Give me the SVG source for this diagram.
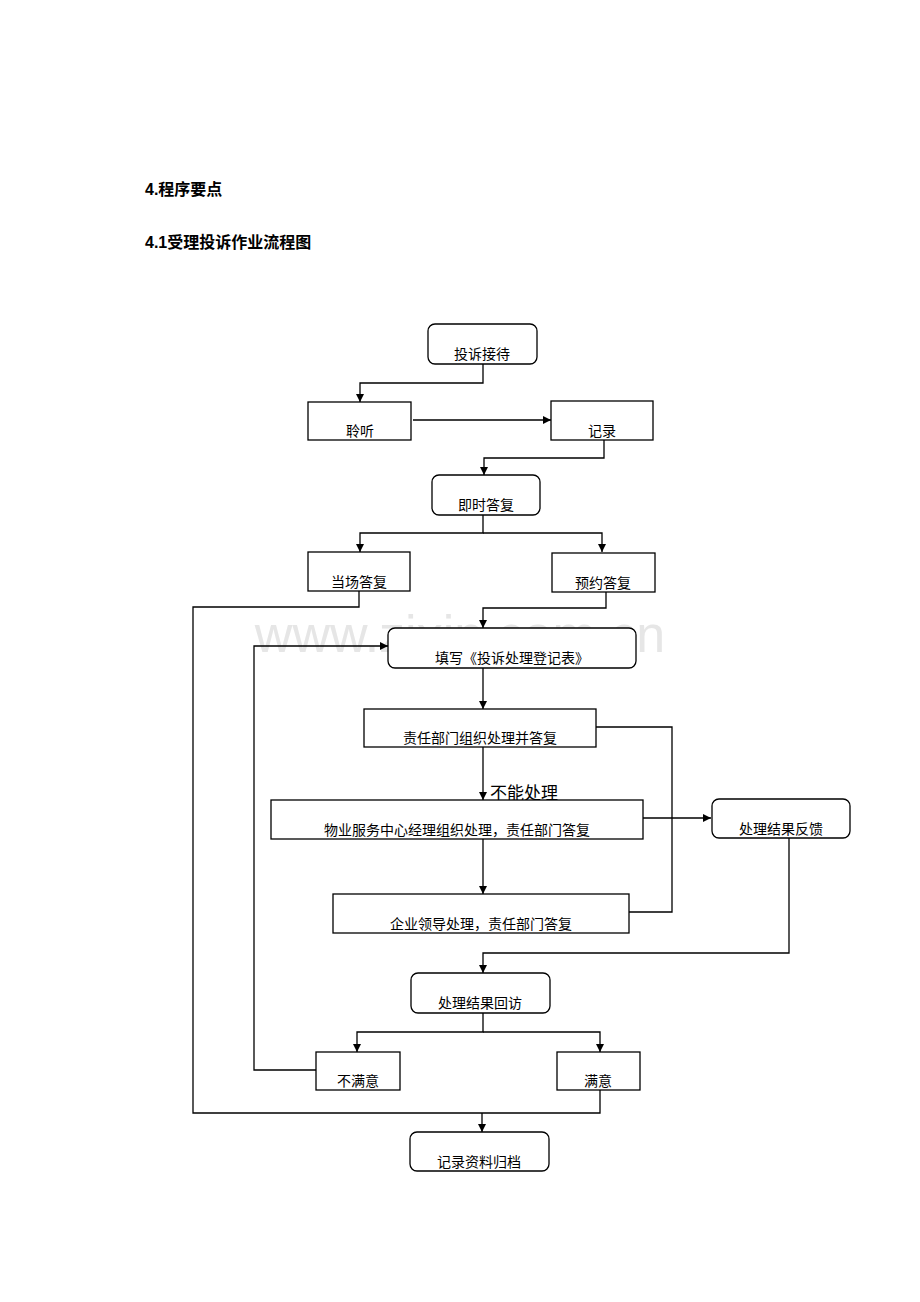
<svg xmlns="http://www.w3.org/2000/svg" width="920" height="1302" viewBox="0 0 920 1302">
<style>
.b{fill:#fff;stroke:#000;stroke-width:1.3}
.t{font-family:"Liberation Serif","Noto Sans CJK SC",serif;font-size:14px;text-anchor:middle}
.h{font-family:"Liberation Sans","Noto Sans CJK SC",sans-serif;font-size:16px;font-weight:bold}
.c{fill:none;stroke:#000;stroke-width:1.3}
</style>
<defs><marker id="a" viewBox="0 0 10 10" refX="10" refY="5" markerWidth="8" markerHeight="8" markerUnits="userSpaceOnUse" orient="auto"><path d="M0,0L10,5L0,10z"/></marker></defs>
<rect width="920" height="1302" fill="#fff"/>
<text class="h" x="145" y="195">4.程序要点</text>
<text class="h" x="145" y="248">4.1受理投诉作业流程图</text>
<text x="460" y="652" font-family="Liberation Sans,sans-serif" font-size="52" fill="#e6e6e6" text-anchor="middle">www.zixin.com.cn</text>
<g id="connectors" class="c">
<path d="M483,364V383H360V402" marker-end="url(#a)"/>
<path d="M413,420H551" marker-end="url(#a)"/>
<path d="M604,440V458H484V475" marker-end="url(#a)"/>
<path d="M483,515V533H360V552" marker-end="url(#a)"/>
<path d="M483,533H602V552" marker-end="url(#a)"/>
<path d="M359,591V607H193V1113H600V1090"/>
<path d="M482,1113V1132" marker-end="url(#a)"/>
<path d="M606,592V608H483V628" marker-end="url(#a)"/>
<path d="M316,1070H254V646H388" marker-end="url(#a)"/>
<path d="M483,668V709" marker-end="url(#a)"/>
<path d="M596,727H672V912H629"/>
<path d="M483,747V800" marker-end="url(#a)"/>
<path d="M643,818H711" marker-end="url(#a)"/>
<path d="M789,838V953H483V973" marker-end="url(#a)"/>
<path d="M483,839V894" marker-end="url(#a)"/>
<path d="M483,1013V1032H357V1052" marker-end="url(#a)"/>
<path d="M483,1032H600V1052" marker-end="url(#a)"/>
</g>
<text x="490" y="799" font-family="Liberation Serif,Noto Sans CJK SC,serif" font-size="17">不能处理</text>
<g id="n1"><rect class="b" x="428" y="324" width="109" height="40" rx="7"/><text class="t" x="482" y="359">投诉接待</text></g>
<g id="n2"><rect class="b" x="308" y="402" width="103" height="38"/><text class="t" x="360" y="436">聆听</text></g>
<g id="n3"><rect class="b" x="551" y="401" width="102" height="39"/><text class="t" x="602" y="436">记录</text></g>
<g id="n4"><rect class="b" x="432" y="475" width="108" height="40" rx="7"/><text class="t" x="486" y="510">即时答复</text></g>
<g id="n5"><rect class="b" x="308" y="552" width="102" height="39"/><text class="t" x="359" y="587">当场答复</text></g>
<g id="n6"><rect class="b" x="552" y="553" width="103" height="39"/><text class="t" x="603" y="588">预约答复</text></g>
<g id="n7"><rect class="b" x="388" y="628" width="248" height="40" rx="7"/><text class="t" x="512" y="663">填写《投诉处理登记表》</text></g>
<g id="n8"><rect class="b" x="364" y="709" width="232" height="38"/><text class="t" x="480" y="743">责任部门组织处理并答复</text></g>
<g id="n9"><rect class="b" x="271" y="800" width="372" height="39"/><text class="t" x="457" y="835">物业服务中心经理组织处理，责任部门答复</text></g>
<g id="n10"><rect class="b" x="712" y="799" width="138" height="39" rx="7"/><text class="t" x="781" y="834">处理结果反馈</text></g>
<g id="n11"><rect class="b" x="333" y="894" width="296" height="39"/><text class="t" x="481" y="929">企业领导处理，责任部门答复</text></g>
<g id="n12"><rect class="b" x="411" y="973" width="139" height="40" rx="7"/><text class="t" x="480" y="1008">处理结果回访</text></g>
<g id="n13"><rect class="b" x="316" y="1052" width="84" height="38"/><text class="t" x="358" y="1086">不满意</text></g>
<g id="n14"><rect class="b" x="557" y="1052" width="83" height="38"/><text class="t" x="598" y="1086">满意</text></g>
<g id="n15"><rect class="b" x="410" y="1132" width="139" height="39" rx="7"/><text class="t" x="479" y="1167">记录资料归档</text></g>
</svg>
